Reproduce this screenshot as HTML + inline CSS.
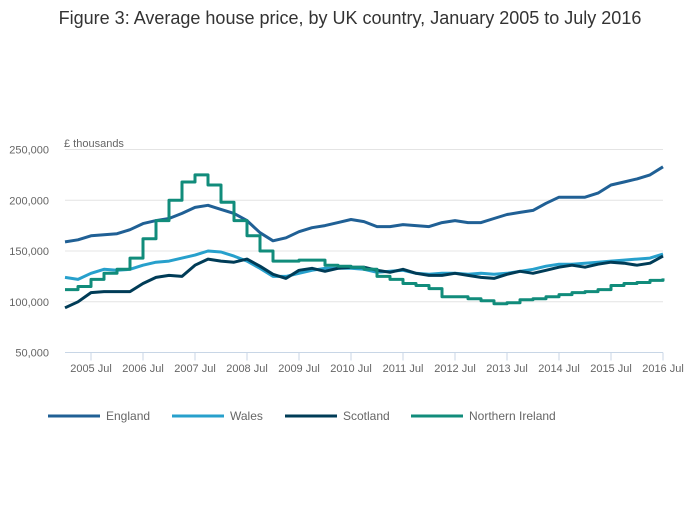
<!DOCTYPE html>
<html><head><meta charset="utf-8"><style>
body{margin:0;background:#fff;font-family:"Liberation Sans",sans-serif;}
svg text{font-family:"Liberation Sans",sans-serif;}
</style></head><body>
<svg id="chart" width="700" height="502">
<text x="350" y="24" text-anchor="middle" font-size="18" fill="#333">Figure 3: Average house price, by UK country, January 2005 to July 2016</text>
<text x="64" y="147" font-size="11" fill="#666">£ thousands</text>
<g id="grid"></g><g id="series"></g><g id="legend"></g>
</svg>
<script>
const yTicks=[50000,100000,150000,200000,250000];
const xTickLabels=["2005 Jul","2006 Jul","2007 Jul","2008 Jul","2009 Jul","2010 Jul","2011 Jul","2012 Jul","2013 Jul","2014 Jul","2015 Jul","2016 Jul"];
const seriesNames=["England","Wales","Scotland","Northern Ireland"];
const england=[159,161,165,166,167,171,177,180,182,187,193,195,191,187,180,168,160,163,169,173,175,178,181,179,174,174,176,175,174,178,180,178,178,182,186,188,190,197,203,203,203,207,215,218,221,225,233];
const wales=[124,122,128,132,131,132,136,139,140,143,146,150,149,145,140,133,125,125,128,131,133,133,133,132,129,130,131,128,127,128,128,127,128,127,128,130,132,135,137,137,138,139,140,141,142,143,147];
const scotland=[94,100,109,110,110,110,118,124,126,125,136,142,140,139,142,135,127,123,131,133,130,133,134,134,131,129,132,128,126,126,128,126,124,123,127,130,128,131,134,136,134,137,139,138,136,138,145];
const nireland=[112,115,122,128,132,143,162,180,200,218,225,215,198,180,165,150,140,140,141,141,136,135,134,132,125,122,118,116,113,105,105,103,101,98,99,102,103,105,107,109,110,112,116,118,119,121,123];
const colors=["#206095","#27a0cc","#003c57","#118c7b"];
const NS="http://www.w3.org/2000/svg";
const X0=65,X1=663,Y50=352.5,Y250=149.5;
function x(m){return X0+(X1-X0)*m/138;}
function y(v){return Y50-(v-50000)*(Y50-Y250)/200000;}
function mk(t,a,p){const e=document.createElementNS(NS,t);for(const k in a)e.setAttribute(k,a[k]);document.getElementById(p).appendChild(e);return e;}
yTicks.forEach(v=>{
  const l=mk("line",{x1:X0,x2:X1,y1:y(v),y2:y(v),stroke:v===50000?"#c8d6e6":"#e4e4e4","stroke-width":1},"grid");
  
  
  const t=mk("text",{x:49,y:y(v)+4,"text-anchor":"end","font-size":11,fill:"#666"},"grid");t.textContent=v.toLocaleString("en-GB");
  
  
});
xTickLabels.forEach((s,i)=>{
  const xx=x(6+12*i);
  const l=mk("line",{x1:xx,x2:xx,y1:Y50,y2:Y50+8,stroke:"#c8d6e6"},"grid");
  
  
  const t=mk("text",{x:xx,y:372,"text-anchor":"middle","font-size":11,fill:"#666"},"grid");t.textContent=s;
  
  
});
[england,wales,scotland,nireland].forEach((d,si)=>{
  let pts;
  if(si===3){
    const arr=[];
    d.forEach((v,i)=>{
      const yy=y(v*1000).toFixed(1);
      arr.push(x(i*3).toFixed(1)+","+yy);
      arr.push(x(Math.min(i*3+3,138)).toFixed(1)+","+yy);
    });
    pts=arr.join(" ");
  } else {
    pts=d.map((v,i)=>x(i*3).toFixed(1)+","+y(v*1000).toFixed(1)).join(" ");
  }
  const p=mk("polyline",{points:pts,fill:"none",stroke:colors[si],"stroke-width":3,"stroke-linejoin":"round"},"series");
  
  
});
const lx=[48,172,285,411];
seriesNames.forEach((n,i)=>{
  const l=mk("line",{x1:lx[i],x2:lx[i]+52,y1:416,y2:416,stroke:colors[i],"stroke-width":3},"legend");
  
  
  const t=mk("text",{x:lx[i]+58,y:420,"font-size":12,fill:"#666"},"legend");t.textContent=n;
  
  
});
</script>
</body></html>
